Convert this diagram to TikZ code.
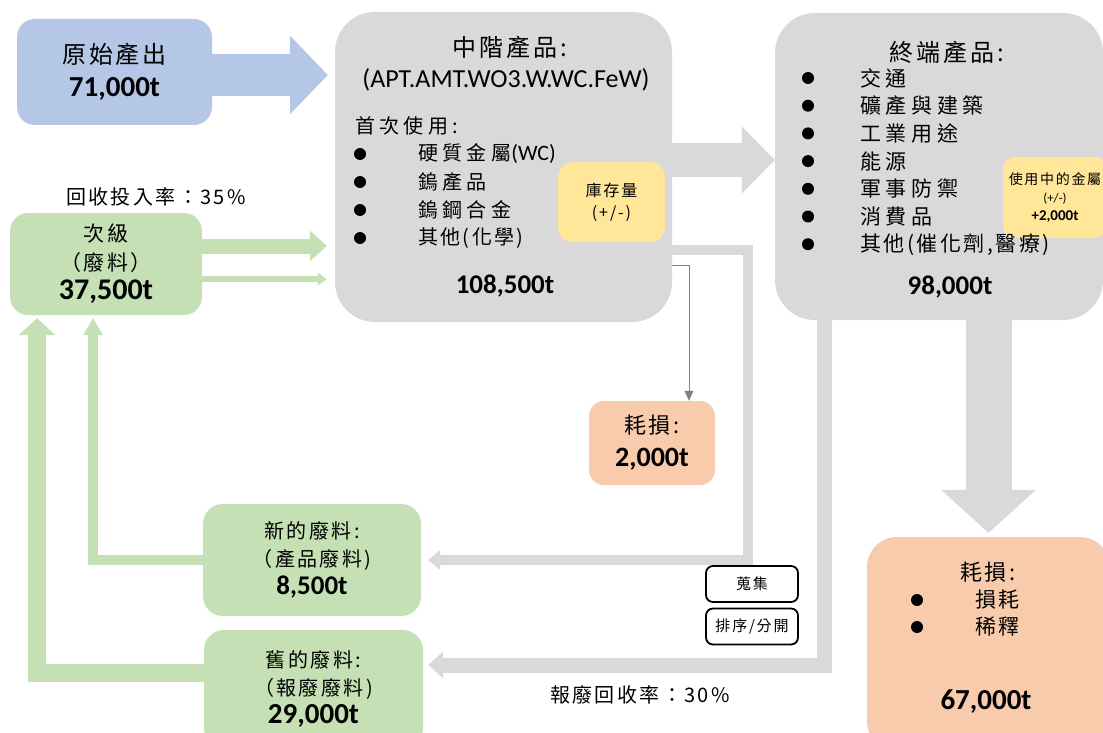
\documentclass[tikz,border=0pt]{standalone}
\usepackage{fontspec}
\setmainfont{Carlito}
\newfontfamily\cjk[LetterSpace=12]{Noto Sans CJK TC}
\newfontfamily\cjkwide[LetterSpace=22]{Noto Sans CJK TC}
\usepackage{tikz}
\usetikzlibrary{arrows.meta}

\definecolor{rawblue}{HTML}{B4C7E7}
\definecolor{scrapgreen}{HTML}{C5E0B4}
\definecolor{flowgray}{HTML}{D9D9D9}
\definecolor{stockyellow}{HTML}{FFE699}
\definecolor{lossorange}{HTML}{F8CBAD}
\definecolor{thingray}{HTML}{7F7F7F}

\newcommand{\fsz}[2]{\fontsize{#1}{#2}\selectfont}
\newcommand{\num}[2]{{\rmfamily\bfseries\fsz{#1}{#1}#2}}

\tikzset{
  box/.style={rounded corners=#1, inner sep=0pt, align=center},
  box/.default=18pt,
  item/.style={anchor=west, inner sep=0pt, font=\cjkwide\fsz{20}{20}},
  total/.style={font=\rmfamily\bfseries\fsz{27}{27}},
  tag/.style={draw, line width=1.8pt, rounded corners=7pt, fill=white,
    minimum width=92pt, minimum height=36pt, inner sep=0pt, font=\cjk\fsz{15}{15}},
  head/.style 2 args={-{Triangle[length=#1,width=#2,line width=0pt]}},
}

\begin{document}
\begin{tikzpicture}[x=1pt,y=-1pt]
    \useasboundingbox (0,0) rectangle (1103,733);
    % boxes
    \node[box, fill=rawblue, minimum width=195pt, minimum height=106pt, font=\cjk\fsz{24}{33}] (raw) at (114.5,72)
        {原始產出\\\num{29}{71,000t}};
    \node[box, fill=scrapgreen, minimum width=192pt, minimum height=102pt, font=\cjk\fsz{21}{29}] (sec) at (106,264)
        {次級\\（廢料）\\\num{30}{37,500t}};
    \node[box=40pt, fill=flowgray, minimum width=337pt, minimum height=310pt] (mid) at (503.5,167) {};
    \node[box=40pt, fill=flowgray, minimum width=328pt, minimum height=307pt] (endprod) at (939,166.5) {};
    \node[box=15pt, fill=stockyellow, minimum width=107pt, minimum height=80pt, font=\cjk\fsz{16}{22}] (stock) at (611.5,202)
        {庫存量\\(+/-)};
    \node[box=12pt, fill=stockyellow, minimum width=104pt, minimum height=81pt, font=\fsz{13}{18}] (inuse) at (1055,197.5)
        {{\cjk\fsz{14}{18}使用中的金屬}\\(+/-)\\\num{15}{+2,000t}};
    \node[box=15pt, fill=lossorange, minimum width=126pt, minimum height=84pt, font=\cjk\fsz{22}{33}] (loss) at (652,443)
        {耗損:\\\num{28}{2,000t}};
    \node[box=30pt, fill=lossorange, minimum width=243pt, minimum height=214pt] (dissip) at (988.5,644) {};
    \node[box=20pt, fill=scrapgreen, minimum width=218pt, minimum height=112pt, font=\cjk\fsz{20}{28}] (new) at (312,560)
        {新的廢料:\\（產品廢料)\\\num{27}{8,500t}};
    \node[box=20pt, fill=scrapgreen, minimum width=219pt, minimum height=118pt, font=\cjk\fsz{20}{28}] (old) at (313.5,689)
        {舊的廢料:\\（報廢廢料)\\\num{29}{29,000t}};
    \node[tag] (collect) at (752,584) {蒐集};
    \node[tag] (sort) at (752,626.5) {排序/分開};

    % texts in the big boxes
    \node[font=\cjk\fsz{24}{24}] (midtitle) at (510,47) {中階產品:};
    \node[font=\fsz{26}{26}] (midsub) at (506,80) {(APT.AMT.WO3.W.WC.FeW)};
    \node[item] (firstuse) at (355,126) {首次使用:};
    \foreach \t [count=\i] in {硬質金屬{\rmfamily\fsz{22}{22}(WC)},鎢產品,鎢鋼合金,{\cjk 其他(化學)}} {
        \fill (360,{154+28*(\i-1)}) circle (6pt);
        \node[item] (mid\i) at (418,{154+28*(\i-1)}) {\t};
    }
    \node[total] (midtotal) at (505,286) {108,500t};

    \node[font=\cjk\fsz{24}{24}] (endtitle) at (947,52) {終端產品:};
    \foreach \t [count=\i] in {交通,礦產與建築,工業用途,能源,軍事防禦,消費品,{\cjk 其他(催化劑,醫療)}} {
        \fill (808,{78+27.7*(\i-1)}) circle (6pt);
        \node[item, font=\cjkwide\fsz{21}{21}] (end\i) at (860,{78+27.7*(\i-1)}) {\t};
    }
    \node[total] (endtotal) at (950,287) {98,000t};

    \node[font=\cjk\fsz{22}{22}] (dissiptitle) at (988,572) {耗損:};
    \foreach \t [count=\i] in {損耗,稀釋} {
        \fill (917,{600+27*(\i-1)}) circle (6pt);
        \node[item, font=\cjk\fsz{21}{21}] (dissip\i) at (975,{600+27*(\i-1)}) {\t};
    }
    \node[total, font=\rmfamily\bfseries\fsz{29}{29}] (dissiptotal) at (986,702) {67,000t};

    \node[font=\cjk\fsz{20}{20}] (rateA) at (156,197) {回收投入率：35\%};
    \node[font=\cjk\fsz{20}{20}] (rateB) at (640,695) {報廢回收率：30\%};

    % flows
    \coordinate (bendA) at (748,250);
    \coordinate (bendB) at (689,265);
    \coordinate (bendC) at (824,665);
    \coordinate (bendD) at (93,560);
    \coordinate (bendE) at (37,673);
    \draw[rawblue, line width=42pt, head={38pt}{79pt}] ([yshift=-3pt]raw.east) -- ([yshift=-3pt,xshift=-7pt]raw.east -| mid.west);
    \draw[scrapgreen, line width=15pt, head={17pt}{31pt}] ([yshift=18pt]sec.east) -- ([yshift=18pt,xshift=-8pt]sec.east -| mid.west);
    \draw[scrapgreen, line width=6pt, head={9pt}{13pt}] ([yshift=-15pt]sec.east) -- ([yshift=-15pt,xshift=-8pt]sec.east -| mid.west);
    \draw[flowgray, line width=34pt, head={33pt}{67pt}] ([yshift=7pt]mid.east) -- ([yshift=7pt]mid.east -| endprod.west);
    \draw[flowgray, line width=10pt, head={12pt}{20pt}, shorten >=7pt] (mid.east |- bendA) -- (bendA) |- (new.east);
    \draw[thingray, line width=1pt, head={10pt}{9pt}] (mid.east |- bendB) -- (bendB) -- (bendB |- loss.north);
    \draw[flowgray, line width=15pt, head={15pt}{27pt}, shorten >=5pt] (bendC |- endprod.south) -- (bendC) -- (bendC -| old.east);
    \draw[flowgray, line width=46pt, head={43pt}{95pt}, shorten >=4pt] (dissip.north |- endprod.south) -- (dissip.north);
    \draw[scrapgreen, line width=10pt, head={17pt}{20pt}, shorten >=3pt] (new.west) -- (bendD) -- (bendD |- sec.south);
    \draw[scrapgreen, line width=18pt, head={17pt}{37pt}, shorten >=3pt] (old.west |- bendE) -- (bendE) -- (bendE |- sec.south);
\end{tikzpicture}
\end{document}
